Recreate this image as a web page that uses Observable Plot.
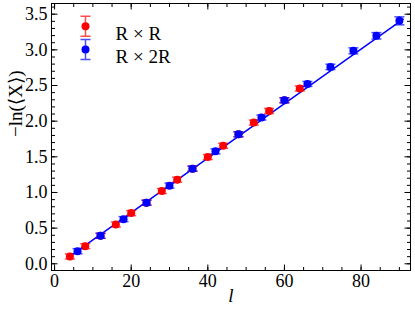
<!DOCTYPE html>
<html><head><meta charset="utf-8">
<script src="https://cdn.jsdelivr.net/npm/d3@7"></script>
<script src="https://cdn.jsdelivr.net/npm/@observablehq/plot@0.6"></script>
<style>body{margin:0;background:#fff}</style>
</head><body><div id="chart"></div>
<script>
// ---- data ----
const seriesNames = ["R × R", "R × 2R"];
const redL = [4, 8, 12, 16, 20, 24, 28, 32, 36, 40, 44, 48, 52, 56, 60, 64];
const redY = [0.103, 0.247, 0.393, 0.552, 0.711, 0.857, 1.020, 1.180, 1.334, 1.497, 1.655, 1.816, 1.980, 2.143, 2.293, 2.458];
const redErr = [0.035, 0.035, 0.035, 0.035, 0.035, 0.035, 0.035, 0.035, 0.035, 0.035, 0.035, 0.035, 0.035, 0.035, 0.035, 0.035];
const blueL = [6, 12, 18, 24, 30, 36, 42, 48, 54, 60, 66, 72, 78, 84, 90];
const blueY = [0.177, 0.393, 0.626, 0.857, 1.096, 1.334, 1.577, 1.816, 2.051, 2.293, 2.522, 2.761, 2.986, 3.197, 3.407];
const blueErr = [0.035, 0.035, 0.035, 0.035, 0.035, 0.035, 0.035, 0.035, 0.035, 0.035, 0.035, 0.038, 0.042, 0.045, 0.056];
const fitL = [3.5, 91];
const fitY = [0.085, 3.43];
const xTickLabels = [0, 20, 40, 60, 80];
const yTickLabels = [0.0, 0.5, 1.0, 1.5, 2.0, 2.5, 3.0, 3.5];
const xMinorTicks = [0, 5, 10, 15, 20, 25, 30, 35, 40, 45, 50, 55, 60, 65, 70, 75, 80, 85, 90];
const yMinorTicks = [0.0,0.1,0.2,0.3,0.4,0.5,0.6,0.7,0.8,0.9,1.0,1.1,1.2,1.3,1.4,1.5,1.6,1.7,1.8,1.9,2.0,2.1,2.2,2.3,2.4,2.5,2.6,2.7,2.8,2.9,3.0,3.1,3.2,3.3,3.4,3.5,3.6];
const xLabel = "l";
const yLabel = "−ln(⟨X⟩)";

// ---- build ----
const RED = "#ff0000", BLUE = "#0000ff";
const red = redL.map((l, i) => ({l, y: redY[i], e: redErr[i]}));
const blue = blueL.map((l, i) => ({l, y: blueY[i], e: blueErr[i]}));
const fit = fitL.map((l, i) => ({l, y: fitY[i]}));

const seg = (x1, y1, x2, y2) => ({draw(ctx) { ctx.moveTo(x1, y1); ctx.lineTo(x2, y2); }});
const legendBar = {draw(ctx) {
  ctx.moveTo(0, -10); ctx.lineTo(0, 10);
  ctx.moveTo(-5, -10); ctx.lineTo(5, -10);
  ctx.moveTo(-5, 10); ctx.lineTo(5, 10);
}};
const cap = seg(-5, 0, 5, 0);

function errMarks(data, color) {
  return [
    Plot.ruleX(data, {x: "l", y1: d => d.y - d.e, y2: d => d.y + d.e, stroke: color, strokeOpacity: 0.7, strokeWidth: 1.5}),
    Plot.dot(data, {x: "l", y: d => d.y + d.e, symbol: cap, fill: "none", stroke: color, strokeOpacity: 0.7, strokeWidth: 1.5}),
    Plot.dot(data, {x: "l", y: d => d.y - d.e, symbol: cap, fill: "none", stroke: color, strokeOpacity: 0.7, strokeWidth: 1.5}),
    Plot.dot(data, {x: "l", y: "y", r: 4, fill: color, stroke: "none"})
  ];
}

function tickMarks(vals, anchor, len, k) {
  const sym = anchor === "bottom" ? seg(0, 0, 0, -len)
    : anchor === "top" ? seg(0, 0, 0, len)
    : anchor === "left" ? seg(0, 0, len, 0) : seg(0, 0, -len, 0);
  const o = {frameAnchor: anchor, symbol: sym, fill: "none", stroke: "black", strokeWidth: 1};
  o[k] = d => d;
  return Plot.dot(vals, o);
}

function legendItem(i, color, dy) {
  return [
    Plot.dot([seriesNames[i]], {frameAnchor: "top-left", dx: 34, dy, symbol: legendBar, fill: "none", stroke: color, strokeOpacity: 0.7, strokeWidth: 1.5}),
    Plot.dot([seriesNames[i]], {frameAnchor: "top-left", dx: 34, dy, r: 4, fill: color, stroke: "none"}),
    Plot.text([seriesNames[i]], {frameAnchor: "top-left", dx: 64, dy, text: d => d, textAnchor: "start", fontSize: 19})
  ];
}

const chart = Plot.plot({
  width: 415, height: 309,
  marginLeft: 51, marginRight: 5, marginTop: 3, marginBottom: 39,
  style: {fontFamily: "'Liberation Serif', 'DejaVu Serif', serif", fontSize: "18px", background: "#fff", overflow: "visible"},
  x: {domain: [-0.8, 92.9]},
  y: {domain: [-0.094, 3.65]},
  marks: [
    Plot.line(fit, {x: "l", y: "y", stroke: BLUE, strokeWidth: 1.5}),
    ...errMarks(red, RED),
    ...errMarks(blue, BLUE),
    Plot.frame({stroke: "black", strokeWidth: 1}),
    tickMarks(xMinorTicks, "bottom", 3.5, "x"),
    tickMarks(xTickLabels, "bottom", 6, "x"),
    tickMarks(xMinorTicks, "top", 3.5, "x"),
    tickMarks(xTickLabels, "top", 6, "x"),
    tickMarks(yMinorTicks, "left", 3.5, "y"),
    tickMarks(yTickLabels, "left", 6, "y"),
    tickMarks(yMinorTicks, "right", 3.5, "y"),
    tickMarks(yTickLabels, "right", 6, "y"),
    Plot.axisX(xTickLabels, {anchor: "bottom", tickSize: 0, tickPadding: 4, fontSize: 18, label: null}),
    Plot.axisY(yTickLabels, {anchor: "left", tickSize: 0, tickPadding: 4, fontSize: 18, tickFormat: d => d.toFixed(1), label: null}),
    Plot.text([xLabel], {frameAnchor: "bottom", dy: 31, text: d => d, fontStyle: "italic", fontSize: 19}),
    Plot.text([yLabel], {frameAnchor: "left", dx: -36, rotate: -90, text: d => d, fontSize: 19}),
    ...legendItem(0, RED, 22.7),
    ...legendItem(1, BLUE, 46)
  ]
});
document.getElementById("chart").appendChild(chart);
</script>
</body></html>
